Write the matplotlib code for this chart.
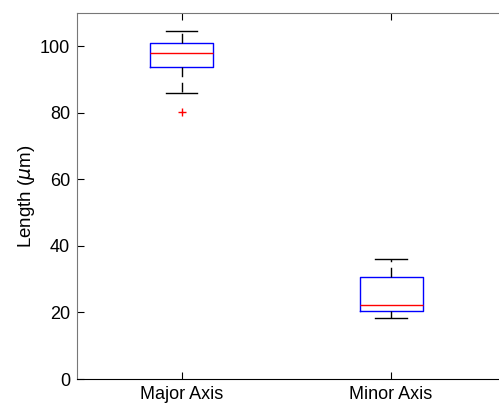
import matplotlib
matplotlib.use('Agg')
import matplotlib.pyplot as plt

plt.rcParams['font.family'] = ['Liberation Sans', 'DejaVu Sans']

labels = ['Major Axis', 'Minor Axis']
whislo = [86.0, 18.4]
q1 = [93.9, 20.4]
med = [97.9, 22.2]
q3 = [101.0, 30.8]
whishi = [104.6, 36.0]
fliers = [[80.3], []]

stats = []
for i in range(len(labels)):
    stats.append({'label': labels[i], 'whislo': whislo[i], 'q1': q1[i],
                  'med': med[i], 'q3': q3[i], 'whishi': whishi[i],
                  'fliers': fliers[i]})

fig = plt.figure(figsize=(4.99, 4.07), dpi=100)
ax = fig.add_axes([77 / 499, 28 / 407, 423 / 499, 366 / 407])

ax.bxp(stats, positions=[1, 2], widths=0.3,
       boxprops=dict(color='blue', linewidth=1),
       medianprops=dict(color='red', linewidth=1),
       whiskerprops=dict(color='black', linewidth=1, linestyle=(0, (7, 4))),
       capprops=dict(color='black', linewidth=1),
       flierprops=dict(marker='+', markeredgecolor='red', markersize=6, linestyle='none'),
       capwidths=0.15)

ax.set_xlim(0.5, 2.52)
ax.set_ylim(0, 110)
ax.set_yticks([0, 20, 40, 60, 80, 100])
ax.set_ylabel(r'Length ($\mu$m)', fontsize=13.5, labelpad=2)
ax.tick_params(axis='both', direction='in', labelsize=13, length=5, top=True, pad=5)
ax.spines['right'].set_visible(False)
for s in ['left', 'top']:
    ax.spines[s].set_color('#777777')
ax.spines['bottom'].set_color('black')

fig.savefig('out.png', dpi=100)
